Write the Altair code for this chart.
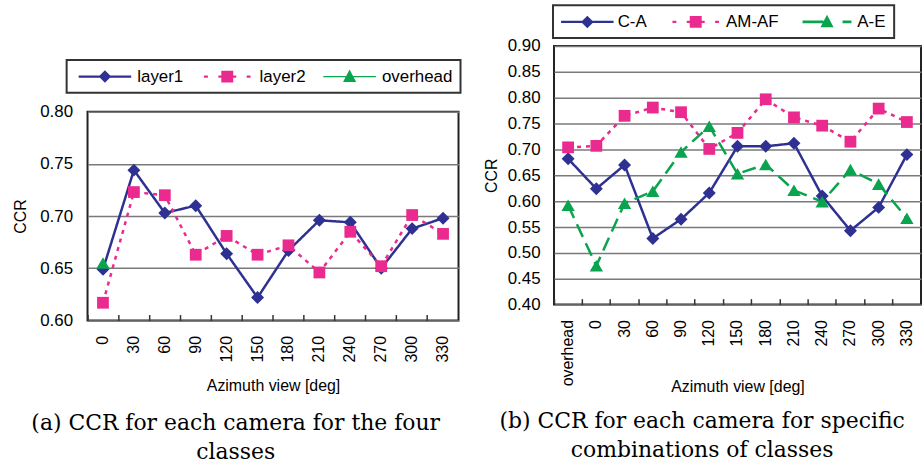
import altair as alt
import pandas as pd

# ---------------- data: panel (a) ----------------
azimuth_a = ["0", "30", "60", "90", "120", "150", "180", "210", "240", "270", "300", "330"]
layer1 = [0.649, 0.744, 0.703, 0.710, 0.664, 0.622, 0.667, 0.696, 0.694, 0.650, 0.688, 0.698]
layer2 = [0.617, 0.723, 0.720, 0.663, 0.681, 0.663, 0.672, 0.646, 0.685, 0.652, 0.701, 0.683]
overhead_x = ["0"]
overhead_y = [0.655]

# ---------------- data: panel (b) ----------------
azimuth_b = ["overhead", "0", "30", "60", "90", "120", "150", "180", "210", "240", "270", "300", "330"]
c_a = [0.682, 0.624, 0.670, 0.528, 0.565, 0.616, 0.706, 0.706, 0.712, 0.610, 0.543, 0.588, 0.690]
am_af = [0.704, 0.707, 0.765, 0.781, 0.772, 0.701, 0.732, 0.797, 0.762, 0.746, 0.715, 0.779, 0.753]
a_e = [0.592, 0.475, 0.596, 0.619, 0.695, 0.745, 0.653, 0.671, 0.621, 0.599, 0.661, 0.633, 0.567]

yticks_a = [0.60, 0.65, 0.70, 0.75, 0.80]
yticks_b = [0.40, 0.45, 0.50, 0.55, 0.60, 0.65, 0.70, 0.75, 0.80, 0.85, 0.90]

NAVY = "#2E3192"
PINK = "#EA2A8E"
GREEN = "#0AA34E"
SANS = "Liberation Sans"

# legend glyphs (line + marker), in symbol units
P_SOLID_DIAMOND = "M-4.4,-0.2H4.4V0.2H-4.4Z M0,-1.05L1.05,0L0,1.05L-1.05,0Z"
P_DOT_SQUARE = "M-3.9,-0.2H-3.25V0.2H-3.9Z M3.25,-0.2H3.9V0.2H3.25Z M-1.5,-0.2H1.5V0.2H-1.5Z M-1,-1H1V1H-1Z"
P_THIN_TRIANGLE = "M-4.4,-0.09H4.4V0.09H-4.4Z M0,-1.2L1.1,0.9H-1.1Z"
P_DASH_TRIANGLE = "M-4.1,-0.22H-0.6V0.22H-4.1Z M2.6,-0.22H4.1V0.22H2.6Z M0,-1.2L1.1,0.9H-1.1Z"


def long_table(cats_list, vals_list, names):
    rows = []
    for name, cats, vals in zip(names, cats_list, vals_list):
        for c, v in zip(cats, vals):
            rows.append({"azimuth": c, "value": v, "series": name})
    return pd.DataFrame(rows)


def panel(df, cats, specs, ydom, yvals, width, height, leg, caption, title_y, cap_offset, ypad):
    x = alt.X(
        "azimuth:N",
        sort=cats,
        scale=alt.Scale(type="band", domain=cats, paddingInner=0, paddingOuter=0),
        axis=alt.Axis(
            title="Azimuth view [deg]",
            labelAngle=270,
            offset=-6,
            domain=False,
            ticks=True,
            tickSize=6,
            tickWidth=1.5,
            tickColor="#333333",
            bandPosition=0,
            labelPadding=15,
            titleY=title_y,
            titleBaseline="middle",
            grid=False,
        ),
    )
    y = alt.Y(
        "value:Q",
        scale=alt.Scale(domain=ydom, nice=False, zero=False),
        axis=alt.Axis(
            title="CCR",
            values=yvals,
            format=".2f",
            ticks=False,
            domain=False,
            grid=True,
            gridColor="#7a7a7a",
            gridWidth=1.5,
            labelPadding=ypad[0],
            titlePadding=ypad[1],
            labelFontSize=17,
        ),
    )
    layers = []
    for s in specs:
        base = alt.Chart(df).transform_filter(alt.datum.series == s["name"])
        if s["line"]:
            layers.append(
                base.mark_line(color=s["color"], strokeDash=s["dash"], strokeWidth=2.5).encode(x=x, y=y)
            )
    for s in specs:
        base = alt.Chart(df).transform_filter(alt.datum.series == s["name"])
        layers.append(
            base.mark_point(shape=s["shape"], filled=True, size=s["size"], color=s["color"], opacity=1).encode(
                x=x, y=y
            )
        )
    names = [s["name"] for s in specs]
    legend = alt.Legend(
        title=None,
        orient="none",
        legendX=leg["x"],
        legendY=leg["y"],
        direction="horizontal",
        columns=3,
        symbolSize=144,
        symbolStrokeWidth=0,
        symbolOpacity=1,
        symbolOffset=leg["symoff"],
        labelOffset=leg["laboff"],
        labelFont=SANS,
        labelFontSize=17,
        labelColor="black",
        padding=8,
        strokeColor="#333333",
        columnPadding=leg["colpad"],
    )
    layers.append(
        alt.Chart(df)
        .mark_point(filled=True, opacity=0)
        .encode(
            x=x,
            y=y,
            color=alt.Color("series:N", sort=names, scale=alt.Scale(domain=names, range=[s["color"] for s in specs]), legend=legend),
            shape=alt.Shape("series:N", sort=names, scale=alt.Scale(domain=names, range=[s["path"] for s in specs]), legend=legend),
        )
    )
    return alt.layer(*layers).properties(
        width=width,
        height=height,
        title=alt.Title(
            text=caption,
            orient="bottom",
            anchor="middle",
            frame="bounds",
            font="DejaVu Serif",
            fontSize=22,
            fontWeight="normal",
            color="black",
            lineHeight=29,
            offset=cap_offset,
        ),
    )


df_a = long_table([azimuth_a, azimuth_a, overhead_x], [layer1, layer2, overhead_y], ["layer1", "layer2", "overhead"])
df_b = long_table([azimuth_b, azimuth_b, azimuth_b], [c_a, am_af, a_e], ["C-A", "AM-AF", "A-E"])

specs_a = [
    dict(name="layer1", color=NAVY, dash=[1, 0], shape="diamond", size=170, line=True, path=P_SOLID_DIAMOND),
    dict(name="layer2", color=PINK, dash=[4, 5], shape="square", size=140, line=True, path=P_DOT_SQUARE),
    dict(name="overhead", color=GREEN, dash=[1, 0], shape="triangle-up", size=180, line=False, path=P_THIN_TRIANGLE),
]
specs_b = [
    dict(name="C-A", color=NAVY, dash=[1, 0], shape="diamond", size=170, line=True, path=P_SOLID_DIAMOND),
    dict(name="AM-AF", color=PINK, dash=[4, 5], shape="square", size=140, line=True, path=P_DOT_SQUARE),
    dict(name="A-E", color=GREEN, dash=[14, 7], shape="triangle-up", size=180, line=True, path=P_DASH_TRIANGLE),
]

left = panel(
    df_a, azimuth_a, specs_a, [0.6, 0.8], yticks_a, 373, 210,
    dict(x=-21, y=14, symoff=22, laboff=24, colpad=13),
    ["(a) CCR for each camera for the four", "classes"], 71, 20, (15, 11),
)
right = panel(
    df_b, azimuth_b, specs_b, [0.4, 0.9], yticks_b, 369, 260,
    dict(x=-1, y=-41, symoff=18, laboff=22, colpad=22),
    ["(b) CCR for each camera for specific", "combinations of classes"], 88, 17, (14, 8),
)

spacer = (
    alt.Chart(pd.DataFrame({"s": [0]}))
    .mark_text(text="", opacity=0)
    .properties(width=1, height=55, view=alt.ViewBackground(stroke="transparent"))
)

chart = (
    alt.hconcat(alt.vconcat(spacer, left, spacing=0), right, spacing=20)
    .resolve_scale(color="independent", shape="independent")
    .resolve_legend(color="independent", shape="independent")
    .properties(padding={"left": 11, "top": 2, "right": 0, "bottom": 0}, background="white")
    .configure_view(stroke="#222222", strokeWidth=2)
    .configure_axis(labelFont=SANS, labelFontSize=16, labelColor="black", titleFont=SANS, titleFontSize=16,
                    titleFontWeight="normal", titleColor="black")
    .configure_legend(strokeWidth=2)
)

chart.save("out.html", embed_options={"renderer": "svg", "actions": False})
